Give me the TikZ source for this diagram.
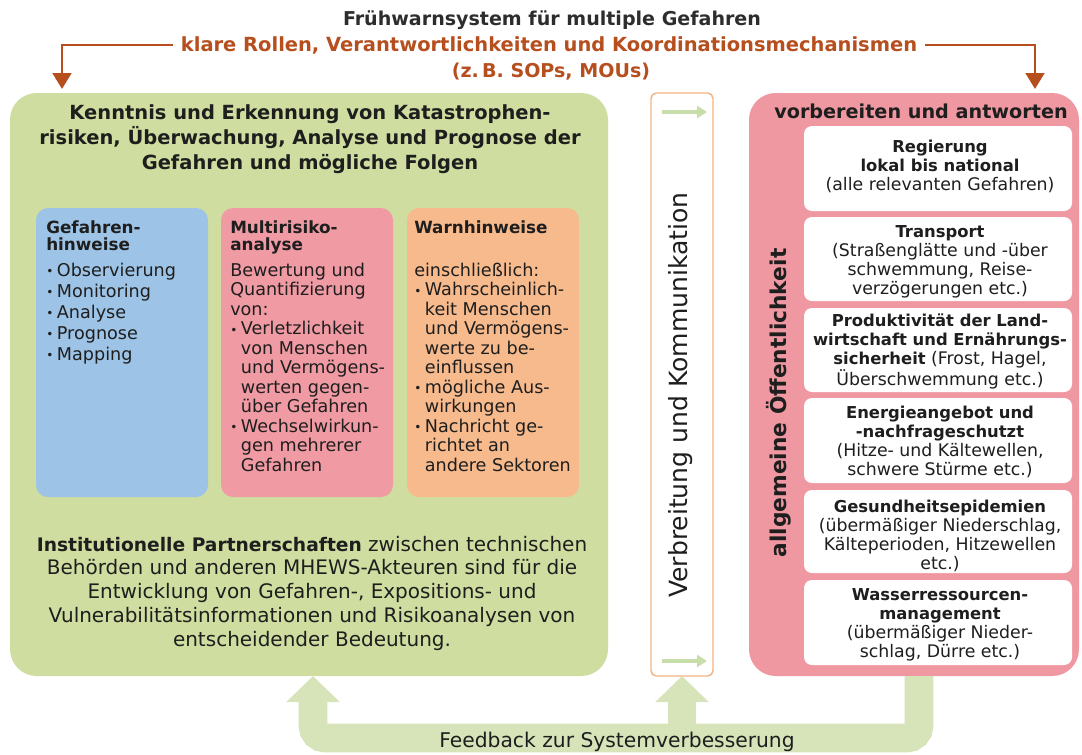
\documentclass[tikz,border=0pt]{standalone}
\usepackage{fontspec}
\setmainfont{DejaVu Sans}
\usetikzlibrary{arrows.meta}
\definecolor{txtc}{RGB}{30,30,30}
\definecolor{titlec}{RGB}{45,45,45}
\definecolor{orangec}{RGB}{182,78,30}
\definecolor{greenc}{RGB}{207,222,160}
\definecolor{bluec}{RGB}{157,195,230}
\definecolor{pinkc}{RGB}{240,154,163}
\definecolor{orangebox}{RGB}{247,186,140}
\definecolor{bigpink}{RGB}{239,152,161}
\definecolor{fbc}{RGB}{215,228,185}
\definecolor{midborder}{RGB}{242,180,130}
\definecolor{smallarrow}{RGB}{200,222,170}
\newcommand\bulx{\makebox[8pt][l]{\raisebox{0.5pt}{\fontsize{9}{9}\selectfont •}}}
\newcommand\indx{\hspace*{8pt}}
\newcommand\hb[1]{{\bfseries\fontsize{12.3}{14.25}\selectfont #1}}
\begin{document}
\begin{tikzpicture}[x=0.75pt,y=-0.75pt,
  every node/.style={text=txtc},
  panel/.style={anchor=north west, inner sep=0pt, outer sep=0pt},
  bigbox/.style={panel, rounded corners=20pt, minimum height=437.25pt},
  subbox/.style={panel, rounded corners=9pt, minimum width=129pt, minimum height=216.75pt},
  whitebox/.style={panel, fill=white, rounded corners=6pt, minimum width=201pt},
  subhead/.style={anchor=base west, align=left, inner sep=0pt, font=\bfseries\fontsize{12.6}{12.75}\selectfont},
  subbody/.style={anchor=base west, align=left, inner sep=0pt, font=\fontsize{13.2}{14.6}\selectfont},
  wtext/.style={anchor=base, align=center, inner sep=0pt, font=\fontsize{13}{14.25}\selectfont},
  orangeline/.style={draw=orangec, line width=2.2pt, -{Triangle[width=14pt,length=12pt]}},
  fbarrow/.style={draw=fbc, line width=21.5pt, rounded corners=9pt, -{Triangle[width=39pt,length=19.5pt]}},
  smallarr/.style={draw=smallarrow, line width=3pt, -{Triangle[width=9pt,length=7.5pt]}}
]
\useasboundingbox (0,0) rectangle (1082,754);

% header
\node[font=\bfseries\fontsize{14.3}{16}\selectfont, text=titlec, anchor=base] (title) at (552,25) {Frühwarnsystem für multiple Gefahren};
\node[font=\bfseries\fontsize{14.6}{16}\selectfont, text=orangec, anchor=base, inner xsep=6pt] (roles) at (549,51) {klare Rollen, Verantwortlichkeiten und Koordinationsmechanismen};
\node[font=\bfseries\fontsize{14.3}{16}\selectfont, text=orangec, anchor=base] (sops) at (551,77) {(z.\,B. SOPs, MOUs)};
\coordinate (tl) at (62,89);
\coordinate (tr) at (1035,89);
\draw[orangeline] (roles.west) -| (tl);
\draw[orangeline] (roles.east) -| (tr);

% big boxes
\node[bigbox, fill=greenc, minimum width=448.5pt] (know) at (10,93) {};
\node[panel, draw=midborder, line width=1.1pt, fill=white, rounded corners=4pt, minimum width=46.5pt, minimum height=437.25pt] (comm) at (651,93) {};
\node[bigbox, fill=bigpink, minimum width=247.5pt] (prep) at (749,93) {};

% green box content (base = last line)
\node[anchor=base, align=center, inner sep=0pt, font=\bfseries\fontsize{14.6}{18.75}\selectfont] (knowtitle) at (310,169)
  {Kenntnis und Erkennung von Katastrophen-\\risiken, Überwachung, Analyse und Prognose der\\Gefahren und mögliche Folgen};

\node[subbox, fill=bluec] (hazbox) at (36,208) {};
\node[subbox, fill=pinkc] (riskbox) at (221,208) {};
\node[subbox, fill=orangebox] (warnbox) at (407,208) {};

\node[subhead] (hazhead) at (46,250) {Gefahren-\\hinweise};
\node[subbody, font=\fontsize{13.2}{15.75}\selectfont] (hazbody) at (46,360)
  {\bulx Observierung\\\bulx Monitoring\\\bulx Analyse\\\bulx Prognose\\\bulx Mapping};

\node[subhead] (riskhead) at (230,250) {Multirisiko-\\analyse};
\node[subbody] (riskbody) at (230,471)
  {Bewertung und\\Quantifizierung\\von:\\\bulx Verletzlichkeit\\\indx von Menschen\\\indx und Vermögens-\\\indx werten gegen-\\\indx über Gefahren\\\bulx Wechselwirkun-\\\indx gen mehrerer\\\indx Gefahren};

\node[subhead] (warnhead) at (414,233) {Warnhinweise};
\node[subbody] (warnbody) at (414,471)
  {einschließlich:\\\bulx Wahrscheinlich-\\\indx keit Menschen\\\indx und Vermögens-\\\indx werte zu be-\\\indx einflussen\\\bulx mögliche Aus-\\\indx wirkungen\\\bulx Nachricht ge-\\\indx richtet an\\\indx andere Sektoren};

\node[anchor=base, align=center, inner sep=0pt, font=\fontsize{15}{17.8}\selectfont] (partner) at (312,646)
  {{\bfseries\fontsize{14}{17.8}\selectfont Institutionelle Partnerschaften} zwischen technischen\\Behörden und anderen MHEWS-Akteuren sind für die\\Entwicklung von Gefahren-, Expositions- und\\Vulnerabilitätsinformationen und Risikoanalysen von\\entscheidender Bedeutung.};

% communication column
\node[rotate=90, inner sep=0pt, font=\fontsize{18.8}{20}\selectfont] (commtext) at (681,395) {Verbreitung und Kommunikation};
\coordinate (ca1) at (662,112);
\coordinate (ca2) at (707,112);
\coordinate (cb1) at (662,661);
\coordinate (cb2) at (707,661);
\draw[smallarr] (ca1) -- (ca2);
\draw[smallarr] (cb1) -- (cb2);

% preparedness box
\node[anchor=base, inner sep=0pt, font=\bfseries\fontsize{14.4}{16}\selectfont] (preptitle) at (921,118) {vorbereiten und antworten};
\node[rotate=90, inner sep=0pt, font=\bfseries\fontsize{16.3}{18}\selectfont] (public) at (779,403) {allgemeine Öffentlichkeit};

\node[whitebox, minimum height=63.75pt] (w1) at (804,126) {};
\node[whitebox, minimum height=63pt] (w2) at (804,217) {};
\node[whitebox, minimum height=63pt] (w3) at (804,308) {};
\node[whitebox, minimum height=63.75pt] (w4) at (804,398) {};
\node[whitebox, minimum height=62.25pt] (w5) at (804,490) {};
\node[whitebox, minimum height=63.75pt] (w6) at (804,580) {};

\node[wtext] (t1) at (940,190) {\hb{Regierung}\\\hb{lokal bis national}\\(alle relevanten Gefahren)};
\node[wtext] (t2) at (940,294) {\hb{Transport}\\(Straßenglätte und -über\\schwemmung, Reise-\\verzögerungen etc.)};
\node[wtext] (t3) at (940,385) {\hb{Produktivität der Land-}\\\hb{wirtschaft und Ernährungs-}\\\hb{sicherheit} (Frost, Hagel,\\Überschwemmung etc.)};
\node[wtext] (t4) at (940,475) {\hb{Energieangebot und}\\\hb{-nachfrageschutzt}\\(Hitze- und Kältewellen,\\schwere Stürme etc.)};
\node[wtext] (t5) at (940,569) {\hb{Gesundheitsepidemien}\\(übermäßiger Niederschlag,\\Kälteperioden, Hitzewellen\\etc.)};
\node[wtext] (t6) at (940,657) {\hb{Wasserressourcen-}\\\hb{management}\\(übermäßiger Nieder-\\schlag, Dürre etc.)};

% feedback loop
\coordinate (fbR) at (919,738);
\coordinate (fbM) at (682,738);
\coordinate (fbL) at (313,738);
\draw[fbarrow] (prep.south -| fbR) -- (fbR) -- (fbL) -- (know.south -| fbL);
\draw[fbarrow, rounded corners=0pt] (fbM) -- (comm.south -| fbM);
\node[anchor=base, inner sep=0pt, font=\fontsize{15.2}{17}\selectfont] (fbtext) at (617,747) {Feedback zur Systemverbesserung};
\end{tikzpicture}
\end{document}
